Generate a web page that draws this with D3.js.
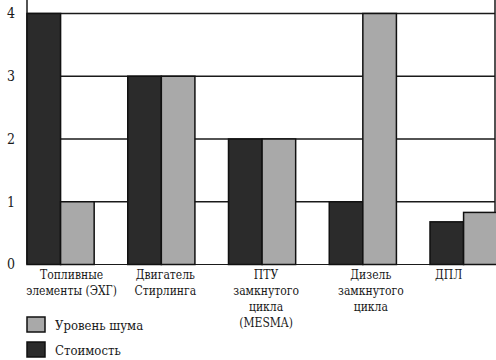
<!DOCTYPE html>
<html><head><meta charset="utf-8">
<script src="https://cdn.jsdelivr.net/npm/d3@7"></script>
<style>body{margin:0;background:#fff}svg{display:block}svg text{font-family:'DejaVu Serif Condensed','DejaVu Serif',serif;font-stretch:condensed}</style>
</head><body>
<svg id="c" width="496" height="360"></svg>
<script>
const categories = ["Топливные\nэлементы (ЭХГ)", "Двигатель\nСтирлинга", "ПТУ\nзамкнутого\nцикла\n(MESMA)", "Дизель\nзамкнутого\nцикла", "ДПЛ"];
const costValues = [4, 3, 2, 1, 0.68];      // Стоимость (dark)
const noiseValues = [1, 3, 2, 4, 0.83];     // Уровень шума (light)
const yTicks = [0, 1, 2, 3, 4];
const seriesNames = ["Уровень шума", "Стоимость"];

(function () {
const svg = d3.select("#c");
const pLeft = 27, pRight = 495, pTop = 13.5, pBottom = 264.5;
const bandW = 100.75;
const x = d3.scaleBand().domain(categories).range([pLeft, pLeft + bandW * categories.length]).padding(0);
const y = d3.scaleLinear().domain([0, 4]).range([pBottom, pTop]);
const barW = x.bandwidth() / 3;
const dark = "#2b2b2b", light = "#a9a9a9", ink = "#1a1a1a";

// grid lines
svg.append("g").selectAll("line").data(yTicks.filter(d => d > 0)).join("line")
  .attr("x1", pLeft).attr("x2", pRight).attr("y1", d => y(d)).attr("y2", d => y(d))
  .attr("stroke", ink).attr("stroke-width", 1.5);
svg.append("line").attr("x1", pLeft).attr("x2", pRight).attr("y1", y(0)).attr("y2", y(0))
  .attr("stroke", ink).attr("stroke-width", 1);
// vertical frame lines
svg.append("line").attr("x1", pLeft).attr("x2", pLeft).attr("y1", 0).attr("y2", y(0)).attr("stroke", ink).attr("stroke-width", 1.5);
svg.append("line").attr("x1", pRight).attr("x2", pRight).attr("y1", 0).attr("y2", y(0)).attr("stroke", ink).attr("stroke-width", 1.5);

// bars
const g = svg.append("g");
g.selectAll("rect.cost").data(categories).join("rect").attr("class", "cost")
  .attr("x", d => x(d)).attr("width", barW)
  .attr("y", (d, i) => y(costValues[i])).attr("height", (d, i) => y(0) - y(costValues[i]))
  .attr("fill", dark).attr("stroke", "#111").attr("stroke-width", 1.5);
g.selectAll("rect.noise").data(categories).join("rect").attr("class", "noise")
  .attr("x", d => x(d) + barW).attr("width", barW)
  .attr("y", (d, i) => y(noiseValues[i])).attr("height", (d, i) => y(0) - y(noiseValues[i]))
  .attr("fill", light).attr("stroke", "#111").attr("stroke-width", 1.5);

// y tick labels
svg.append("g").selectAll("text").data(yTicks).join("text")
  .attr("x", 11).attr("y", d => y(d)).attr("dy", "0.35em")
  .attr("text-anchor", "middle")
  .attr("font-size", 14).attr("fill", ink).text(d => d);

// category labels
const labelShift = [11, 4, 4, 8, -15];
const lab = svg.append("g").attr("font-size", 12).attr("fill", ink);
categories.forEach((c, i) => {
  const cx = x(c) + barW + labelShift[i];
  const t = lab.append("text").attr("text-anchor", "middle").attr("x", cx).attr("y", 279);
  c.split("\n").forEach((line, j) => {
    t.append("tspan").attr("x", cx).attr("y", 279 + j * 16).text(line);
  });
});

// legend
const leg = svg.append("g");
const legColors = [light, dark];
const legY = [317, 342];
seriesNames.forEach((n, i) => {
  leg.append("rect").attr("x", 27).attr("y", legY[i]).attr("width", 18).attr("height", 15)
    .attr("fill", legColors[i]).attr("stroke", "#111").attr("stroke-width", 1.5);
  leg.append("text").attr("x", 55).attr("y", legY[i] + 13)
    .attr("font-size", 13).attr("fill", ink).text(n);
});
})();
</script>
</body></html>
